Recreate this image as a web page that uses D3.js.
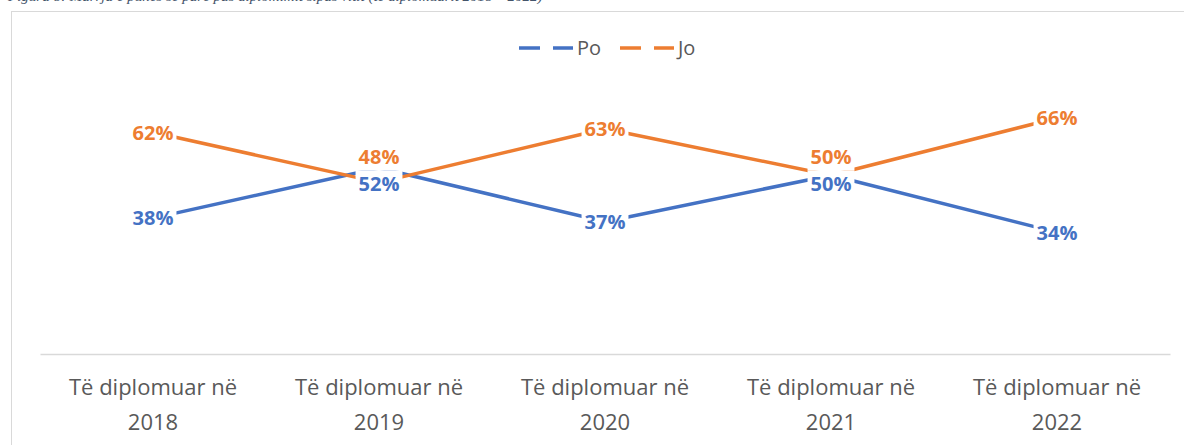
<!DOCTYPE html>
<html>
<head>
<meta charset="utf-8">
<script src="https://cdn.jsdelivr.net/npm/d3@7"></script>
<style>
  body { margin: 0; background: #fff; }
  svg { display: block; }
</style>
</head>
<body>
<svg id="chart" width="1184" height="445"></svg>
<script>
const categories = ["2018", "2019", "2020", "2021", "2022"];
const catPrefix = "Të diplomuar në";
const seriesNames = ["Po", "Jo"];
const poValues = [0.38, 0.52, 0.37, 0.50, 0.34];
const joValues = [0.62, 0.48, 0.63, 0.50, 0.66];
const colors = { Po: "#4472C4", Jo: "#ED7D31" };

const width = 1184, height = 445;
const svg = d3.select("#chart");
const font = "'Open Sans', 'DejaVu Sans', sans-serif";

// caption, cut off by the top edge of the crop like in the source
svg.append("text")
  .attr("x", 8).attr("y", 0.5)
  .attr("font-family", "'Liberation Serif', 'DejaVu Serif', serif")
  .attr("font-style", "italic")
  .attr("font-size", 15)
  .attr("fill", "#44546A")
  .text("Figura 8: Marrja e punës së parë pas diplomimit sipas vitit (të diplomuarit 2018 – 2022)");

// chart border
svg.append("rect")
  .attr("x", 11.5).attr("y", 11.5)
  .attr("width", 1200).attr("height", 500)
  .attr("fill", "none")
  .attr("stroke", "#D9D9D9");

const xScale = d3.scaleBand().domain(categories).range([40, 1170]);
const yScale = d3.scaleLinear().domain([0, 0.7]).range([354, 103.7]);
const cx = (c) => xScale(c) + xScale.bandwidth() / 2;

// category axis
const xAxis = svg.append("g")
  .attr("transform", `translate(0, 354)`)
  .call(d3.axisBottom(xScale).tickSize(0).tickFormat(""));
xAxis.select(".domain").attr("stroke", "#D9D9D9").attr("stroke-width", 1.5);

const tickLabels = svg.append("g").selectAll("text")
  .data(categories)
  .join("text")
  .attr("x", (d) => cx(d))
  .attr("y", 395)
  .attr("text-anchor", "middle")
  .attr("font-family", font)
  .attr("font-size", 22)
  .attr("fill", "#595959");
tickLabels.append("tspan").attr("x", (d) => cx(d)).text(catPrefix);
tickLabels.append("tspan").attr("x", (d) => cx(d)).attr("dy", 35).text((d) => d);

const series = [
  { name: "Po", values: poValues },
  { name: "Jo", values: joValues },
];

const line = d3.line()
  .x((d) => cx(d.cat))
  .y((d) => yScale(d.v));

series.forEach((s) => {
  svg.append("path")
    .datum(s.values.map((v, i) => ({ cat: categories[i], v })))
    .attr("fill", "none")
    .attr("stroke", colors[s.name])
    .attr("stroke-width", 3.5)
    .attr("stroke-linejoin", "round")
    .attr("d", line);
});

// label centre: where the two series meet, Jo goes above and Po below
function labelY(name, i) {
  const po = poValues[i], jo = joValues[i];
  if (Math.abs(po - jo) < 0.06) {
    const mid = (yScale(po) + yScale(jo)) / 2;
    return name === "Jo" ? mid - 18 : mid + 9;
  }
  return yScale(name === "Po" ? po : jo);
}

series.forEach((s) => {
  const g = svg.append("g").selectAll("g")
    .data(s.values.map((v, i) => ({ cat: categories[i], v, i })))
    .join("g")
    .attr("transform", (d) => `translate(${cx(d.cat)}, ${labelY(s.name, d.i)})`);
  const txt = g.append("text")
    .attr("text-anchor", "middle")
    .attr("dy", "0.36em")
    .attr("font-family", font)
    .attr("font-weight", "bold")
    .attr("font-size", 20)
    .attr("fill", colors[s.name])
    .text((d) => d3.format(".0%")(d.v));
  txt.each(function () {
    const w = this.getComputedTextLength();
    d3.select(this.parentNode).insert("rect", "text")
      .attr("x", -w / 2 - 3).attr("y", -13.5)
      .attr("width", w + 6).attr("height", 27)
      .attr("fill", "#fff");
  });
});

// legend
const legend = svg.append("g").attr("transform", "translate(519, 48)");
seriesNames.forEach((name, i) => {
  const lg = legend.append("g").attr("transform", `translate(${i * 101}, 0)`);
  lg.append("line")
    .attr("x1", 0).attr("x2", 54)
    .attr("stroke", colors[name])
    .attr("stroke-width", 3.5)
    .attr("stroke-dasharray", "21,13");
  lg.append("text")
    .attr("x", 58).attr("dy", "0.36em")
    .attr("font-family", font)
    .attr("font-size", 20)
    .attr("fill", "#595959")
    .text(name);
});
</script>
</body>
</html>
